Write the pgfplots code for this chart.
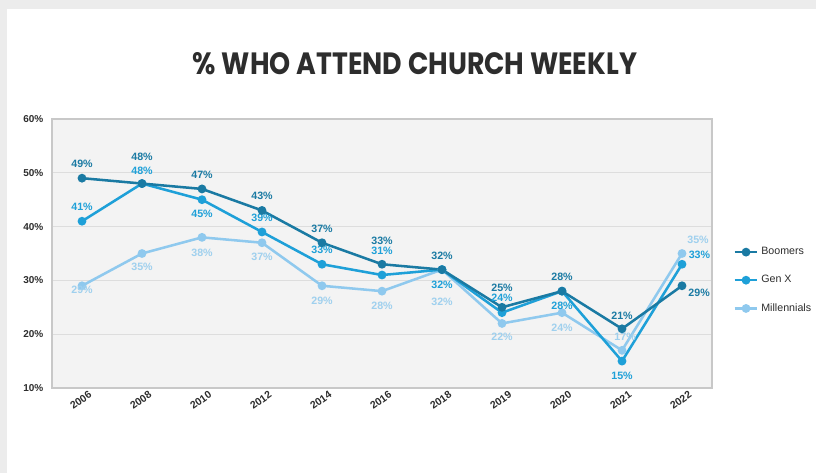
\documentclass[border=0pt]{standalone}
\usepackage{pgfplots}
\pgfplotsset{compat=1.18}
\usepackage{pgfplotstable}
\usepackage{fontspec}
\setmainfont{Liberation Sans}
\newfontfamily\titlefont{Poppins}
\definecolor{boom}{HTML}{1A7AA3}
\definecolor{genx}{HTML}{1EA0D8}
\definecolor{mill}{HTML}{8FC9EE}
\definecolor{millt}{HTML}{9FD0EE}
\definecolor{plotbg}{HTML}{F3F3F3}
\definecolor{frame}{HTML}{C8C8C8}
\definecolor{grid}{HTML}{DDDDDD}
\definecolor{outer}{HTML}{ECECEC}
\definecolor{txt}{HTML}{2D2D2D}

% x: category index, y: value, dx/dy: label offset in pt
\pgfplotstableread{
x y dx dy
0 49 0 10.5
1 48 0 20
2 47 0 10.5
3 43 0 10.9
4 37 0 10.5
5 33 0 17.7
6 32 0 10.5
7 25 0 14.3
8 28 0 10.5
9 21 0 9.8
10 29 12.8 -5.3
}\boomers
\pgfplotstableread{
x y dx dy
0 41 0 10.5
1 48 0 9.5
2 45 0 -10.5
3 39 0 10.7
4 33 0 10.5
5 31 0 18
6 32 0 -11.6
7 24 0 10.8
8 28 0 -11.3
9 15 0 -11.3
10 33 13.1 6.8
}\genx
\pgfplotstableread{
x y dx dy
0 29 0 -3
1 35 0 -9.8
2 38 0 -11.3
3 37 0 -10.5
4 29 0 -11.3
5 28 0 -11.3
6 32 0 -24
7 22 0 -9.8
8 24 0 -11.3
9 17 2.3 10.5
10 35 12 10.5
}\mill

\begin{document}
\begin{tikzpicture}
\useasboundingbox (0,0) rectangle (612pt,-354.75pt);
\fill[outer] (0,0) rectangle (612pt,-354.75pt);
\fill[white] (5.25pt,-6.75pt) rectangle (612pt,-354.75pt);
\node[txt] at (311.25pt,-48pt) {\resizebox{333pt}{16.5pt}{\titlefont\bfseries \% WHO ATTEND CHURCH WEEKLY}};
\begin{axis}[
  at={(39pt,-89.25pt)}, anchor=north west,
  scale only axis, width=495pt, height=201.75pt,
  xmin=-0.5, xmax=10.5, ymin=10, ymax=60,
  clip=false,
  axis background/.style={fill=plotbg},
  axis line style={draw=frame, line width=0.8pt},
  ymajorgrids, grid style={draw=grid, line width=0.5pt},
  major tick length=0pt,
  xtick={0,...,10},
  xticklabels={2006,2008,2010,2012,2014,2016,2018,2019,2020,2021,2022},
  xticklabel style={rotate=35, anchor=north east, font=\bfseries\fontsize{7.8}{8}\selectfont, text=txt, inner sep=1pt, yshift=-3pt, xshift=4pt},
  ytick={10,20,30,40,50,60},
  yticklabel={\pgfmathprintnumber{\tick}\%},
  yticklabel style={font=\bfseries\fontsize{7.5}{8}\selectfont, text=txt, xshift=-3pt},
  /pgf/number format/assume math mode=true,
  legend style={at={(1.032,0.40)}, anchor=west, draw=none, fill=none,
    font=\fontsize{8}{9}\selectfont, text=txt, row sep=10pt, inner sep=0pt},
  legend cell align=left,
  reverse legend,
  every axis plot/.append style={line width=1.9pt, mark=*, mark size=2.3pt},
  nodes near coords={\pgfmathprintnumber{\pgfplotspointmeta}\%},
  visualization depends on={\thisrow{dx} \as \dx},
  visualization depends on={\thisrow{dy} \as \dy},
  every node near coord/.append style={anchor=center, xshift=\dx pt, yshift=\dy pt,
    font=\bfseries\fontsize{8}{9}\selectfont, inner sep=0pt},
]
\addplot[color=mill, every node near coord/.append style={text=millt}] table[x=x,y=y] {\mill};
\addplot[color=genx, every node near coord/.append style={text=genx}] table[x=x,y=y] {\genx};
\addplot[color=boom, every node near coord/.append style={text=boom}] table[x=x,y=y] {\boomers};
\legend{Millennials, Gen X, Boomers}
\end{axis}
\end{tikzpicture}
\end{document}
